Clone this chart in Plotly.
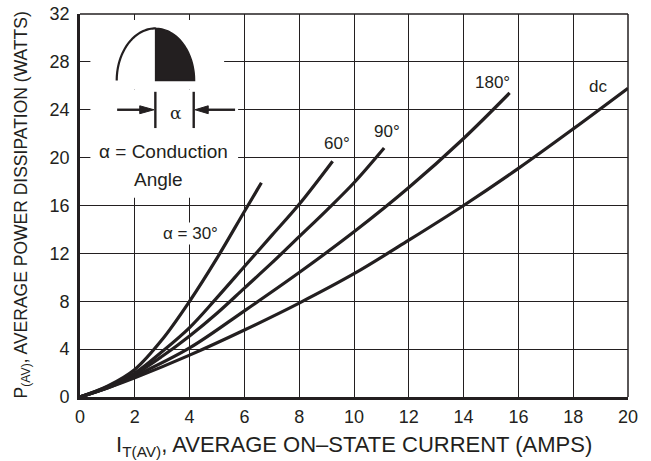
import numpy as np
import plotly.graph_objects as go

# ---- data ----
x_30 = [0, 1, 2, 3, 4, 5, 6, 6.62]
y_30 = [0, 0.9, 2.3, 4.8, 8.0, 11.6, 15.5, 17.9]

x_60 = [0, 1, 2, 3, 4, 5, 6, 7, 8, 9.22]
y_60 = [0, 0.85, 2.0, 3.8, 5.8, 8.3, 10.9, 13.5, 16.1, 19.7]

x_90 = [0, 1, 2, 3, 4, 5, 6, 7, 8, 9, 10, 11.1]
y_90 = [0, 0.8, 1.9, 3.4, 5.1, 7.0, 9.1, 11.2, 13.4, 15.6, 17.9, 20.8]

x_180 = [0, 1, 2, 4, 6, 8, 10, 12, 14, 15.68]
y_180 = [0, 0.75, 1.75, 4.1, 7.2, 10.4, 13.8, 17.5, 21.6, 25.4]

x_dc = [0, 1, 2, 4, 6, 8, 10, 12, 14, 16, 18, 20]
y_dc = [0, 0.75, 1.6, 3.5, 5.6, 7.85, 10.3, 13.1, 16.0, 19.1, 22.4, 25.8]

curve_labels = ["α = 30°", "60°", "90°", "180°", "dc"]
x_ticks = list(range(0, 21, 2))
y_ticks = list(range(0, 33, 4))
x_title = "I<sub>T(AV)</sub>, AVERAGE ON–STATE CURRENT (AMPS)"
y_title = "P<sub>(AV)</sub>, AVERAGE POWER DISSIPATION (WATTS)"

INK = "#231f20"
FONT = "Liberation Sans, Arial, Helvetica, sans-serif"

fig = go.Figure()
for xs, ys in [(x_30, y_30), (x_60, y_60), (x_90, y_90), (x_180, y_180), (x_dc, y_dc)]:
    fig.add_trace(go.Scatter(x=xs, y=ys, mode="lines",
                             line=dict(color=INK, width=3.2, shape="spline", smoothing=1.0),
                             showlegend=False, hoverinfo="skip"))

shapes = []
# white panel masking the grid behind the inset diagram
shapes.append(dict(type="rect", xref="x", yref="y", x0=0.38, x1=5.26, y0=25.7, y1=31.5,
                   fillcolor="white", line=dict(width=0), layer="between"))
shapes.append(dict(type="rect", xref="x", yref="y", x0=0.38, x1=5.77, y0=16.65, y1=25.7,
                   fillcolor="white", line=dict(width=0), layer="between"))

# conduction-angle waveform (semi-ellipse, right half filled)
cx, a, base, h = 2.76, 1.42, 26.44, 4.36
t = np.linspace(np.pi, np.pi / 2, 40)
left = " ".join(f"L{cx + a*np.cos(v):.4f},{base + h*np.sin(v):.4f}" for v in t)
left = "M" + left[1:]
shapes.append(dict(type="path", xref="x", yref="y", path=left,
                   line=dict(color=INK, width=2.2), layer="above"))
t2 = np.linspace(np.pi / 2, 0, 40)
right = f"M{cx:.4f},{base:.4f} " + " ".join(f"L{cx + a*np.cos(v):.4f},{base + h*np.sin(v):.4f}" for v in t2) + " Z"
shapes.append(dict(type="path", xref="x", yref="y", path=right,
                   fillcolor=INK, line=dict(color=INK, width=1.5), layer="above"))

# dimension arrows
ya = 24.0
bar_l, bar_r = 2.75, 4.15
shapes.append(dict(type="line", xref="x", yref="y", x0=bar_l, x1=bar_l, y0=22.47, y1=25.5,
                   line=dict(color=INK, width=2.4), layer="above"))
shapes.append(dict(type="line", xref="x", yref="y", x0=bar_r, x1=bar_r, y0=22.47, y1=25.5,
                   line=dict(color=INK, width=2.4), layer="above"))
shapes.append(dict(type="line", xref="x", yref="y", x0=1.355, x1=2.2, y0=ya, y1=ya,
                   line=dict(color=INK, width=2.4), layer="above"))
shapes.append(dict(type="path", xref="x", yref="y",
                   path=f"M2.18,{ya-0.33} L2.70,{ya} L2.18,{ya+0.33} Z",
                   fillcolor=INK, line=dict(color=INK, width=1), layer="above"))
shapes.append(dict(type="line", xref="x", yref="y", x0=4.65, x1=5.66, y0=ya, y1=ya,
                   line=dict(color=INK, width=2.4), layer="above"))
shapes.append(dict(type="path", xref="x", yref="y",
                   path=f"M4.68,{ya-0.33} L4.20,{ya} L4.68,{ya+0.33} Z",
                   fillcolor=INK, line=dict(color=INK, width=1), layer="above"))

# top and right frame lines
shapes.append(dict(type="line", xref="paper", yref="paper", x0=0, x1=1, y0=1, y1=1,
                   line=dict(color=INK, width=1.5), layer="above"))
shapes.append(dict(type="line", xref="paper", yref="paper", x0=1, x1=1, y0=0, y1=1,
                   line=dict(color=INK, width=1.5), layer="above"))

annotations = [
    dict(x=3.52, y=23.75, text="α", font=dict(size=17, color=INK, family="DejaVu Serif, serif")),
    dict(x=3.05, y=20.5, text="α = Conduction", font=dict(size=19, color=INK, family=FONT)),
    dict(x=2.87, y=18.15, text="Angle", font=dict(size=19, color=INK, family=FONT)),
    dict(x=4.03, y=13.7, text=curve_labels[0], font=dict(size=17, color=INK, family=FONT),
         bgcolor="white"),
    dict(x=9.38, y=21.2, text=curve_labels[1], font=dict(size=17, color=INK, family=FONT)),
    dict(x=11.2, y=22.15, text=curve_labels[2], font=dict(size=17, color=INK, family=FONT)),
    dict(x=15.05, y=26.3, text=curve_labels[3], font=dict(size=17, color=INK, family=FONT)),
    dict(x=18.9, y=25.95, text=curve_labels[4], font=dict(size=17, color=INK, family=FONT)),
]
for an in annotations:
    an.update(xref="x", yref="y", showarrow=False)

# axis titles
annotations.append(dict(xref="paper", yref="paper", x=0.5, y=0, xanchor="center", yanchor="middle",
                        yshift=-49, text=x_title, showarrow=False,
                        font=dict(size=22, color=INK, family=FONT)))
annotations.append(dict(xref="paper", yref="paper", x=0, y=0.5, xanchor="center", yanchor="middle",
                        xshift=-58, textangle=-90, text=y_title, showarrow=False,
                        font=dict(size=17.5, color=INK, family=FONT)))

fig.update_layout(
    width=651, height=461,
    margin=dict(l=80, r=23, t=14, b=64),
    paper_bgcolor="white", plot_bgcolor="white",
    shapes=shapes, annotations=annotations,
    font=dict(family=FONT, color=INK),
    xaxis=dict(range=[0, 20], tickvals=x_ticks, ticktext=[str(v) for v in x_ticks],
               automargin=False, ticklabeloverflow="allow",
               showgrid=True, gridcolor=INK, gridwidth=1.3, zeroline=False,
               showline=True, linecolor=INK, linewidth=2.6, ticks="",
               tickfont=dict(size=18, color=INK), ticklabelstandoff=2),
    yaxis=dict(range=[0, 32], tickvals=y_ticks, ticktext=[str(v) for v in y_ticks],
               automargin=False, ticklabeloverflow="allow",
               showgrid=True, gridcolor=INK, gridwidth=1.3, zeroline=False,
               showline=True, linecolor=INK, linewidth=2.6, ticks="",
               tickfont=dict(size=18, color=INK), ticklabelstandoff=4),
)

# remove the browser's default 8 px body margin so the figure fills the window exactly
fig.write_html("out.html", config={"displayModeBar": False},
               post_script="document.body.style.margin='0px';document.body.style.overflow='hidden';")
